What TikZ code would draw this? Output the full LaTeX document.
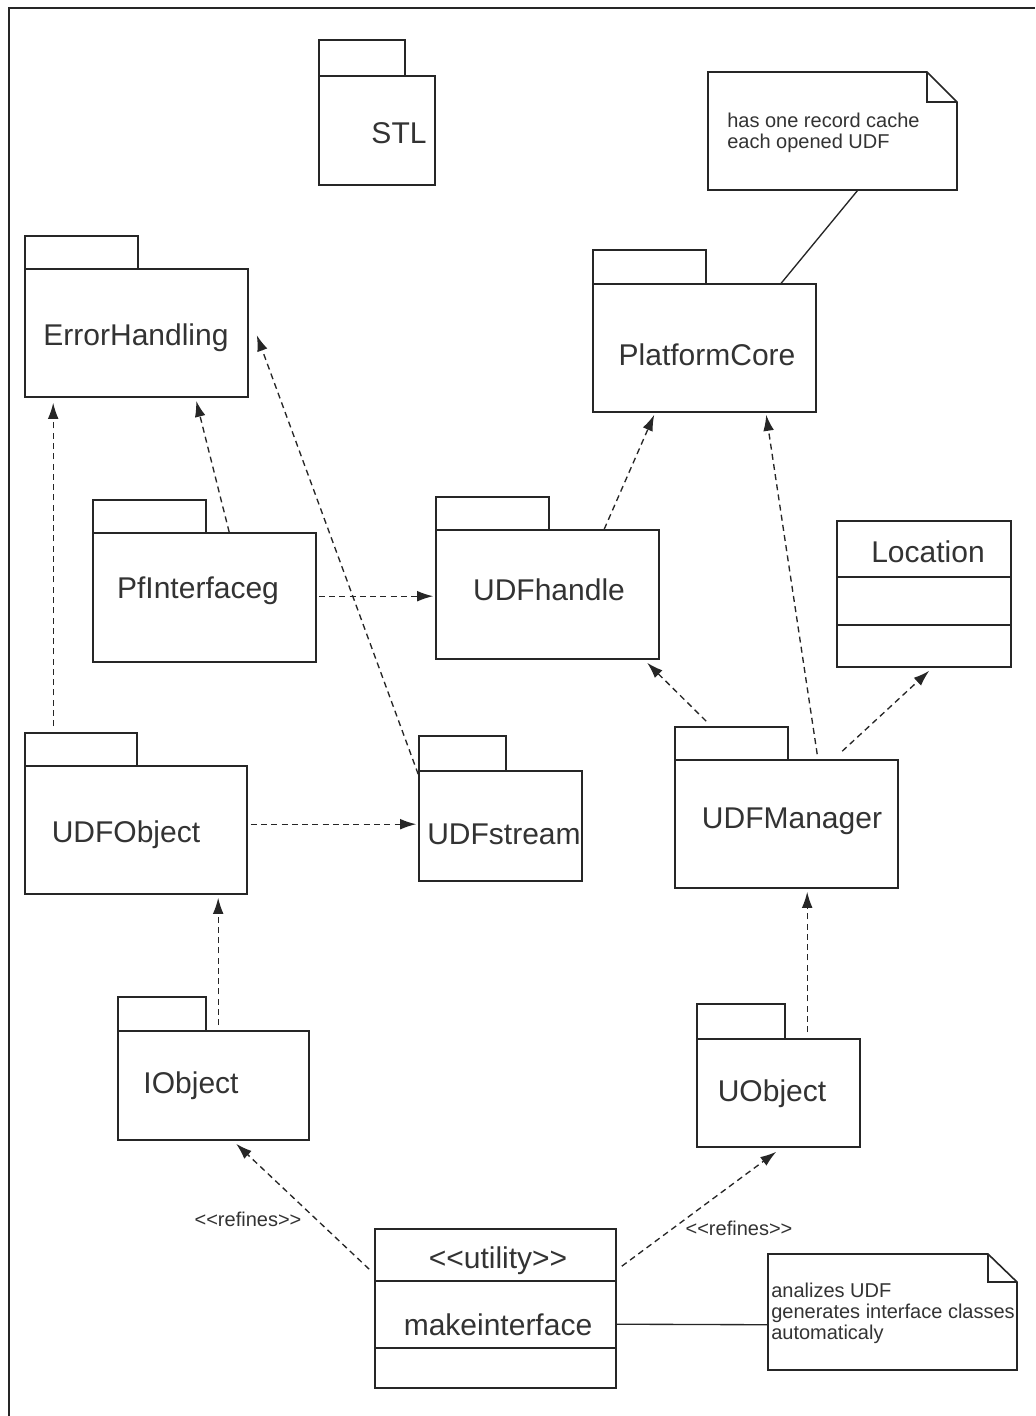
\documentclass[tikz,border=0pt]{standalone}
\usepackage{fontspec}
\setmainfont{Liberation Sans}[Ligatures=TeXOff]
\usetikzlibrary{arrows.meta,calc,fit}
\definecolor{ink}{HTML}{262626}
\definecolor{txt}{HTML}{333333}
\begin{document}
\begin{tikzpicture}[x=0.75pt,y=-0.75pt,
  box/.style={draw=ink,line width=1.2pt,inner sep=0pt},
  tab/.style={draw=ink,line width=1.2pt},
  big/.style={font=\fontsize{22.5}{26}\selectfont,text=txt,inner sep=0pt,anchor=base},
  small/.style={font=\fontsize{15}{16}\selectfont,text=txt,inner sep=0pt},
  dep/.style={draw=ink,line width=1pt,dash pattern=on 4.5pt off 3.2pt,-{Latex[length=12pt,width=8pt]}},
  assoc/.style={draw=ink,line width=1pt}]
\useasboundingbox[fill=white] (0,0) rectangle (1035,1416);
% frame
\draw[ink,line width=1.2pt] (9,1416) -- (9,8) -- (1035,8);

% packages
\node[box,fit={(319,76)(435,185)}] (stl) {};
\draw[tab] (319,40) rectangle (405,76);
\node[big] (stlT) at (399,144) {STL};

\node[box,fit={(25,269)(248,397)}] (eh) {};
\draw[tab] (25,236) rectangle (138,269);
\node[big] (ehT) at (136,345) {ErrorHandling};

\node[box,fit={(593,284)(816,412)}] (pc) {};
\draw[tab] (593,250) rectangle (706,284);
\node[big] (pcT) at (707,365) {PlatformCore};

\node[box,fit={(93,533)(316,662)}] (pf) {};
\draw[tab] (93,500) rectangle (206,533);
\node[big] (pfT) at (198,598) {PfInterfaceg};

\node[box,fit={(436,530)(659,659)}] (uh) {};
\draw[tab] (436,497) rectangle (549,530);
\node[big] (uhT) at (549,600) {UDFhandle};

\node[box,fit={(25,766)(247,894)}] (uo) {};
\draw[tab] (25,733) rectangle (137,766);
\node[big] (uoT) at (126,842) {UDFObject};

\node[box,fit={(419,771)(582,881)}] (us) {};
\draw[tab] (419,736) rectangle (506,771);
\node[big] (usT) at (504,844) {UDFstream};

\node[box,fit={(675,760)(898,888)}] (um) {};
\draw[tab] (675,727) rectangle (788,760);
\node[big] (umT) at (792,828) {UDFManager};

\node[box,fit={(118,1031)(309,1140)}] (io) {};
\draw[tab] (118,997) rectangle (206,1031);
\node[big] (ioT) at (191,1093) {IObject};

\node[box,fit={(697,1039)(860,1147)}] (uob) {};
\draw[tab] (697,1004) rectangle (785,1039);
\node[big] (uobT) at (772,1101) {UObject};

% class Location
\node[box,fit={(837,521)(1011,667)}] (loc) {};
\draw[tab] ($(loc.north west)+(0,57)$) -- ($(loc.north east)+(0,57)$);
\draw[tab] ($(loc.north west)+(0,105)$) -- ($(loc.north east)+(0,105)$);
\node[big] (locT) at (928,562) {Location};

% utility class
\node[box,fit={(375,1229)(616,1388)}] (ut) {};
\draw[tab] ($(ut.north west)+(0,53)$) -- ($(ut.north east)+(0,53)$);
\draw[tab] ($(ut.north west)+(0,120)$) -- ($(ut.north east)+(0,120)$);
\node[big] (utS) at (498,1268) {<<utility>>};
\node[big] (utT) at (498,1335) {makeinterface};

% notes
\node[inner sep=0pt,fit={(708,72)(957,190)}] (n1) {};
\draw[tab] (708,72) -- (927,72) -- (957,102) -- (957,190) -- (708,190) -- cycle;
\draw[tab] (927,72) -- (927,102) -- (957,102);
\node[small,anchor=base west] (n1a) at (727,128) {has one record cache};
\node[small,anchor=base west] (n1b) at (727,149) {each opened UDF};

\node[inner sep=0pt,fit={(768,1254)(1017,1370)}] (n2) {};
\draw[tab] (768,1254) -- (988,1254) -- (1017,1282) -- (1017,1370) -- (768,1370) -- cycle;
\draw[tab] (988,1254) -- (988,1282) -- (1017,1282);
\node[small,anchor=base west] (n2a) at (771,1297) {analizes UDF};
\node[small,anchor=base west] (n2b) at (771,1318) {generates interface classes};
\node[small,anchor=base west] (n2c) at (771,1339) {automaticaly};

% note links
\draw[assoc] ($(n1.south west)+(150,0)$) -- ($(pc.north west)+(189,0)$);
\draw[assoc] ($(ut.north east)+(0,96)$) -- ($(n2.north west)+(0,71)$);

% dependencies
\draw[dep] ($(uo.north west)+(29,-39)$) -- ($(eh.south west)+(29,5)$);
\draw[dep] ($(pf.north west)+(137,0)$) -- ($(eh.south west)+(172,3)$);
\draw[dep] ($(us.north west)+(0,4)$) -- ($(eh.north east)+(8,67)$);
\draw[dep] ($(pf.north east)+(2,64)$) -- ($(uh.north west)+(-2,67)$);
\draw[dep] ($(uh.north west)+(169,0)$) -- ($(pc.south west)+(62,2)$);
\draw[dep] ($(um.north west)+(143,-5)$) -- ($(pc.south west)+(174,2)$);
\draw[dep] ($(um.north west)+(32,-38)$) -- ($(uh.south west)+(212,3)$);
\draw[dep] ($(um.north west)+(168,-8)$) -- ($(loc.south west)+(93,3)$);
\draw[dep] ($(uo.north east)+(3,59)$) -- ($(us.north west)+(-2,54)$);
\draw[dep] ($(io.north west)+(101,-5)$) -- ($(uo.south west)+(194,3)$);
\draw[dep] ($(uob.north west)+(111,-6)$) -- ($(um.south west)+(133,3)$);
\draw[dep] ($(ut.north west)+(-5,41)$) -- ($(io.south west)+(119,3)$);
\draw[dep] ($(ut.north east)+(5,38)$) -- ($(uob.south west)+(80,4)$);

% labels
\node[small,anchor=base] (r1) at (248,1226) {<<refines>>};
\node[small,anchor=base] (r2) at (739,1235) {<<refines>>};
\end{tikzpicture}
\end{document}
